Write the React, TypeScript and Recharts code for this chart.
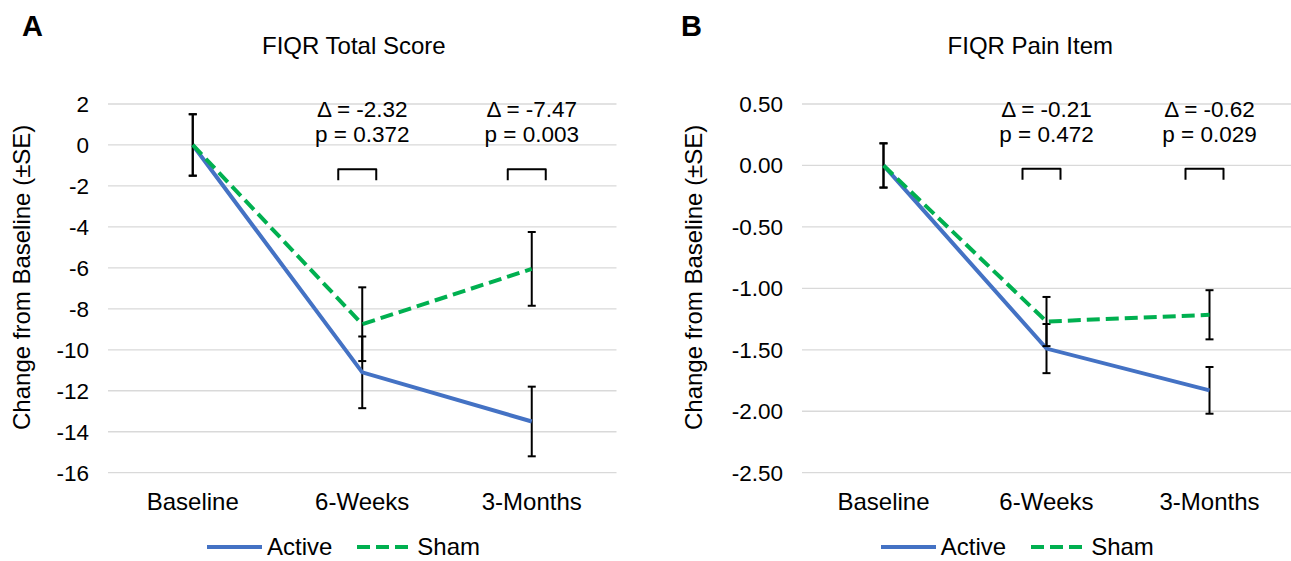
import React from 'react';
import {
  LineChart,
  Line,
  XAxis,
  YAxis,
  CartesianGrid,
  ErrorBar,
  ReferenceDot,
  Legend,
} from 'recharts';

// ---------- data ----------
const categories = ['Baseline', '6-Weeks', '3-Months'];
const seriesNames = ['Active', 'Sham'];
const yLabelText = 'Change from Baseline (±SE)';

const totalActive = [0, -11.1, -13.5];
const totalActiveSE = [1.5, 1.75, 1.7];
const totalSham = [0, -8.75, -6.05];
const totalShamSE = [1.5, 1.8, 1.8];

const painActive = [0, -1.49, -1.83];
const painActiveSE = [0.18, 0.2, 0.19];
const painSham = [0, -1.27, -1.215];
const painShamSE = [0.18, 0.2, 0.2];

const totalTicks = [2, 0, -2, -4, -6, -8, -10, -12, -14, -16];
const painTicks = [0.5, 0, -0.5, -1, -1.5, -2, -2.5];

const annotatedCategories = ['6-Weeks', '3-Months'];
const totalDeltas = ['-2.32', '-7.47'];
const totalPValues = ['0.372', '0.003'];
const painDeltas = ['-0.21', '-0.62'];
const painPValues = ['0.472', '0.029'];
const totalBracketLevel = -1.19;
const painBracketLevel = -0.027;

// ---------- styles ----------
const FONT = '"Liberation Sans", Arial, sans-serif';
const BLUE = '#4472C4';
const GREEN = '#00B050';
const GRID = '#d9d9d9';

const buildRows = (a: number[], aSE: number[], s: number[], sSE: number[]) =>
  categories.map((name, i) => ({
    name,
    active: a[i],
    activeSE: aSE[i],
    sham: s[i],
    shamSE: sSE[i],
  }));

const totalRows = buildRows(totalActive, totalActiveSE, totalSham, totalShamSE);
const painRows = buildRows(painActive, painActiveSE, painSham, painShamSE);

const makeYLabel = (offsetX: number) => (props: any) => {
  const vb = props.viewBox || {};
  const x = (vb.x ?? 0) + offsetX;
  const y = (vb.y ?? 104) + (vb.height ?? 369) / 2 - 11;
  return (
    <text
      x={x}
      y={y}
      transform={`rotate(-90 ${x} ${y})`}
      textAnchor="middle"
      dominantBaseline="central"
      fontSize={24}
      fontFamily={FONT}
      fill="#000"
    >
      {yLabelText}
    </text>
  );
};

const LegendContent = () => (
  <div
    style={{
      display: 'flex',
      justifyContent: 'center',
      alignItems: 'center',
      fontFamily: FONT,
      fontSize: 24,
      lineHeight: '24px',
      color: '#000',
    }}
  >
    <svg width={55} height={10} style={{ display: 'block' }}>
      <line x1={0} y1={5} x2={55} y2={5} stroke={BLUE} strokeWidth={4} />
    </svg>
    <span style={{ marginLeft: 5 }}>{seriesNames[0]}</span>
    <svg width={51} height={10} style={{ display: 'block', marginLeft: 25 }}>
      <line x1={0} y1={5} x2={51} y2={5} stroke={GREEN} strokeWidth={4} strokeDasharray="13 6" />
    </svg>
    <span style={{ marginLeft: 9 }}>{seriesNames[1]}</span>
  </div>
);

const renderAnnotation = (delta: string, pv: string) => (p: any) => {
  const cx = p.cx;
  const cy = p.cy;
  return (
    <g>
      <text x={cx} y={cy - 52} textAnchor="middle" fontSize={22.5} fontFamily={FONT} fill="#000">
        {`Δ = ${delta}`}
      </text>
      <text x={cx} y={cy - 27} textAnchor="middle" fontSize={22.5} fontFamily={FONT} fill="#000">
        {`p = ${pv}`}
      </text>
      <path
        d={`M${cx - 24},${cy + 11} V${cy} H${cx + 14} V${cy + 11}`}
        fill="none"
        stroke="#000"
        strokeWidth={2}
        strokeLinejoin="round"
      />
    </g>
  );
};

type PanelProps = {
  left: number;
  width: number;
  yAxisWidth: number;
  marginRight: number;
  pad: number;
  rows: any[];
  ticks: number[];
  fmt: (v: number) => string;
  deltas: string[];
  pvalues: string[];
  bracketLevel: number;
  labelOffset: number;
  legendLeft: number;
};

const Panel = (props: PanelProps) => {
  const {
    left, width, yAxisWidth, marginRight, pad, rows, ticks, fmt,
    deltas, pvalues, bracketLevel, labelOffset, legendLeft,
  } = props;
  const domain: [number, number] = [ticks[ticks.length - 1], ticks[0]];
  return (
    <div style={{ position: 'absolute', left, top: 0 }}>
      <LineChart
        width={width}
        height={561}
        data={rows}
        margin={{ top: 104, right: marginRight, bottom: 48.3, left: 0 }}
      >
        <CartesianGrid vertical={false} stroke={GRID} strokeWidth={1.3} />
        <XAxis
          dataKey="name"
          type="category"
          axisLine={false}
          tickLine={false}
          tickSize={0}
          tickMargin={20}
          height={40}
          padding={{ left: pad, right: pad }}
          tick={{ fill: '#000', fontSize: 24, fontFamily: FONT }}
        />
        <YAxis
          type="number"
          domain={domain}
          ticks={ticks}
          interval={0}
          width={yAxisWidth}
          axisLine={false}
          tickLine={false}
          tickSize={0}
          tickMargin={19}
          tickFormatter={fmt}
          tick={{ fill: '#000', fontSize: 22.5, fontFamily: FONT }}
          label={makeYLabel(labelOffset)}
        />
        <Legend
          verticalAlign="middle"
          align="center"
          content={() => <LegendContent />}
          wrapperStyle={{ top: 535, left: legendLeft, width: 300 }}
        />
        <Line
          type="linear"
          dataKey="active"
          name={seriesNames[0]}
          stroke={BLUE}
          strokeWidth={4}
          dot={false}
          activeDot={false}
          isAnimationActive={false}
        >
          <ErrorBar dataKey="activeSE" width={4} stroke="#000" strokeWidth={2} isAnimationActive={false} />
        </Line>
        <Line
          type="linear"
          dataKey="sham"
          name={seriesNames[1]}
          stroke={GREEN}
          strokeWidth={4}
          strokeDasharray="13 6"
          dot={false}
          activeDot={false}
          isAnimationActive={false}
        >
          <ErrorBar dataKey="shamSE" width={4} stroke="#000" strokeWidth={2} isAnimationActive={false} />
        </Line>
        {annotatedCategories.map((cat, i) => (
          <ReferenceDot
            key={cat}
            x={cat}
            y={bracketLevel}
            r={0}
            ifOverflow="visible"
            shape={renderAnnotation(deltas[i], pvalues[i])}
          />
        ))}
      </LineChart>
    </div>
  );
};

export default function App() {
  return (
    <div
      style={{
        position: 'absolute',
        left: 0,
        top: 0,
        width: 1291,
        height: 561,
        background: '#fff',
        overflow: 'hidden',
        fontFamily: FONT,
      }}
    >
      <svg width={1291} height={70} style={{ position: 'absolute', left: 0, top: 0 }}>
        <text x={22} y={35.7} fontSize={29} fontWeight="bold" fontFamily={FONT} fill="#000">A</text>
        <text x={353.8} y={54} fontSize={24} textAnchor="middle" fontFamily={FONT} fill="#000">
          FIQR Total Score
        </text>
        <text x={681} y={35.7} fontSize={29} fontWeight="bold" fontFamily={FONT} fill="#000">B</text>
        <text x={1030.3} y={54} fontSize={24} textAnchor="middle" fontFamily={FONT} fill="#000">
          FIQR Pain Item
        </text>
      </svg>
      <Panel
        left={0}
        width={645}
        yAxisWidth={108}
        marginRight={28.5}
        pad={84.75}
        rows={totalRows}
        ticks={totalTicks}
        fmt={(v: number) => String(v)}
        deltas={totalDeltas}
        pvalues={totalPValues}
        bracketLevel={totalBracketLevel}
        labelOffset={21.6}
        legendLeft={193.5}
      />
      <Panel
        left={660}
        width={631}
        yAxisWidth={142}
        marginRight={0}
        pad={81.5}
        rows={painRows}
        ticks={painTicks}
        fmt={(v: number) => v.toFixed(2)}
        deltas={painDeltas}
        pvalues={painPValues}
        bracketLevel={painBracketLevel}
        labelOffset={34}
        legendLeft={207.3}
      />
    </div>
  );
}
